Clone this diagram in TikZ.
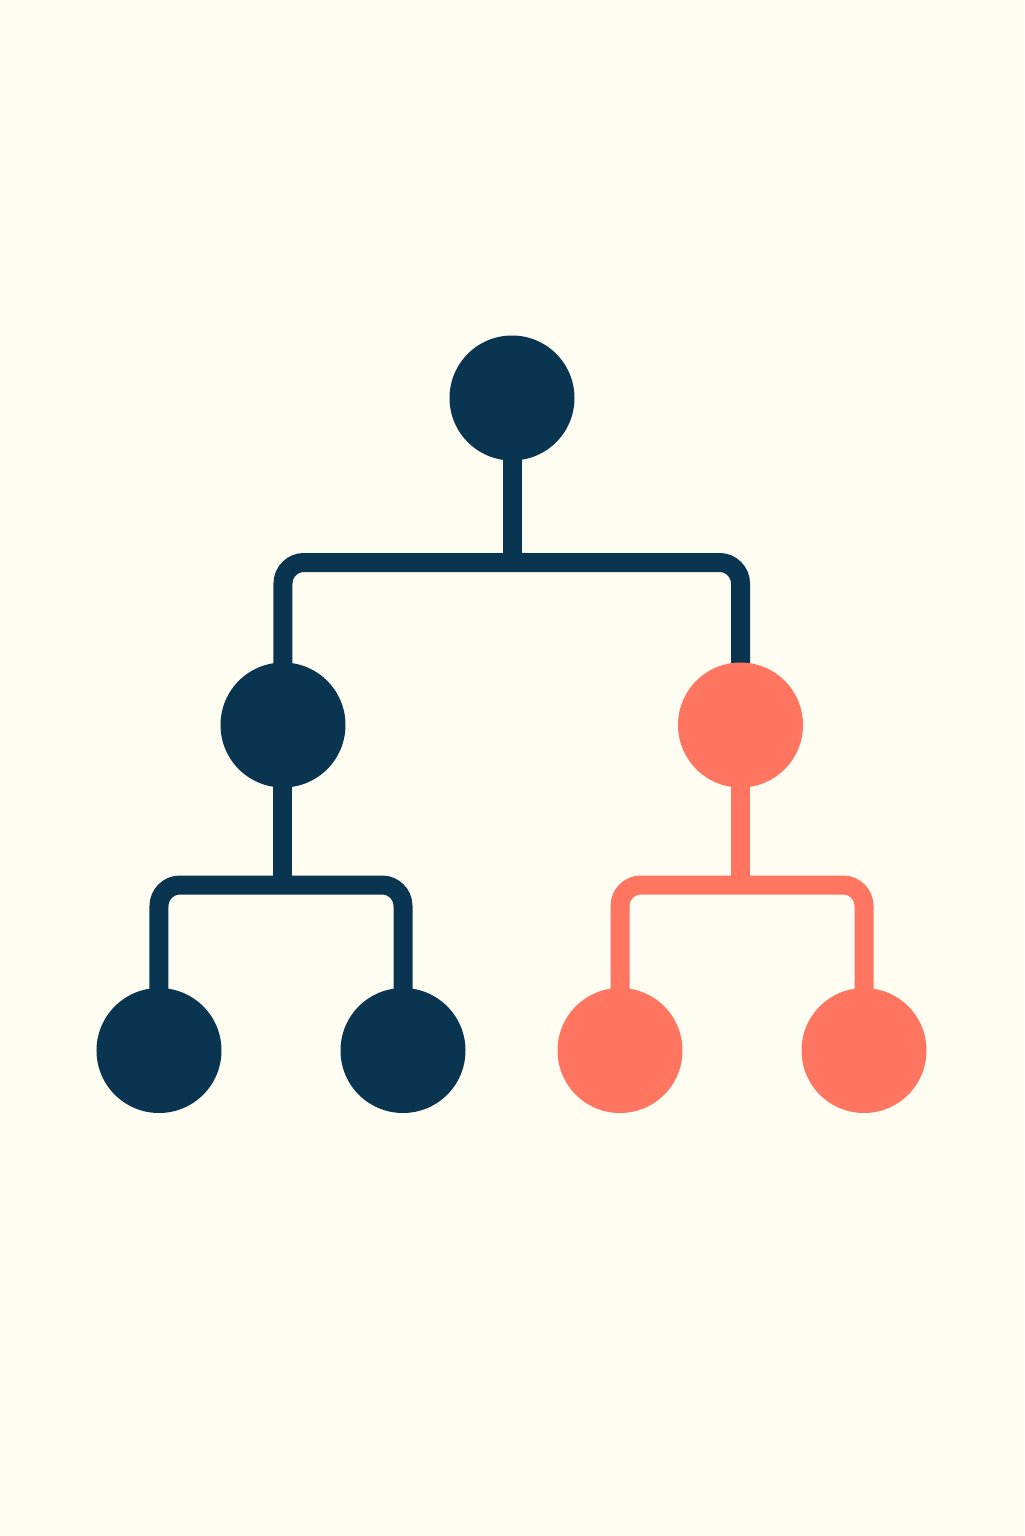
\documentclass[tikz,border=0pt]{standalone}
\usepackage{tikz}
\usetikzlibrary{backgrounds}
\definecolor{CreamLight}{RGB}{255, 252, 242}
\definecolor{NavyDark}{RGB}{10, 53, 80}
\definecolor{CoralRed}{RGB}{255, 117, 96}

\begin{document}
\begin{tikzpicture}[auto]
\tikzstyle{dot} = [circle, fill, inner sep=0pt, minimum size=1.25cm]
\tikzstyle{line} = [draw, -, line width=0.19cm, rounded corners=0.21cm]

\useasboundingbox [fill=CreamLight] (-5.12,3.98) rectangle (5.12,-11.38);

\coordinate (root);
\coordinate [below of=root, node distance=1.645cm] (j0);
\coordinate [left of=j0, node distance=2.29cm] (c0l);
\coordinate [right of=j0, node distance=2.285cm] (c0r);
\coordinate [below of=c0l, node distance=1.625cm] (midL);
\coordinate [below of=c0r, node distance=1.625cm] (midR);
%
\coordinate [below of=midL, node distance=1.6cm] (j1);
\coordinate [left of=j1, node distance=1.24cm] (c1l);
\coordinate [right of=j1, node distance=1.2cm] (c1r);
\coordinate [below of=c1l, node distance=1.655cm] (leafLL);
\coordinate [below of=c1r, node distance=1.655cm] (leafLR);
%
\coordinate [below of=midR, node distance=1.6cm] (j2);
\coordinate [left of=j2, node distance=1.205cm] (c2l);
\coordinate [right of=j2, node distance=1.235cm] (c2r);
\coordinate [below of=c2l, node distance=1.655cm] (leafRL);
\coordinate [below of=c2r, node distance=1.655cm] (leafRR);
%
\path [line, color=NavyDark] (root) -- (j0);
\path [line, color=NavyDark] (midL) -- (c0l) -- (c0r) -- (midR);
\path [line, color=NavyDark] (midL) -- (j1);
\path [line, color=NavyDark] (leafLL) -- (c1l) -- (c1r) -- (leafLR);
\path [line, color=CoralRed] (midR) -- (j2);
\path [line, color=CoralRed] (leafRL) -- (c2l) -- (c2r) -- (leafRR);
%
\node [dot, color=NavyDark] (n0) at (root) {};
\node [dot, color=NavyDark] (n1) at (midL) {};
\node [dot, color=CoralRed] (n2) at (midR) {};
\node [dot, color=NavyDark] (n3) at (leafLL) {};
\node [dot, color=NavyDark] (n4) at (leafLR) {};
\node [dot, color=CoralRed] (n5) at (leafRL) {};
\node [dot, color=CoralRed] (n6) at (leafRR) {};

\end{tikzpicture}
\end{document}
